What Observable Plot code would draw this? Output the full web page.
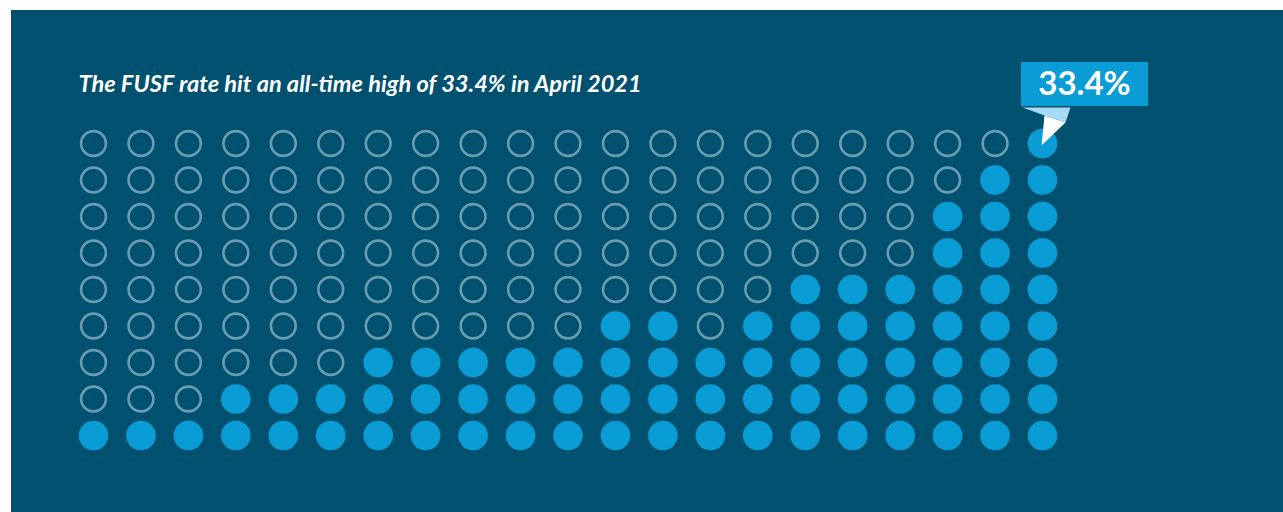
<!DOCTYPE html>
<html>
<head>
<meta charset="utf-8">
<script src="https://cdn.jsdelivr.net/npm/d3@7"></script>
<script src="https://cdn.jsdelivr.net/npm/@observablehq/plot@0.6"></script>
<style>
  html, body { margin: 0; padding: 0; background: #ffffff; }
  #wrap { position: absolute; left: 11px; top: 10px; width: 1272px; height: 502px; background: #00506f; }
  #wrap svg { display: block; }
</style>
</head>
<body>
<div id="wrap"></div>
<script>
// Data
const title = "The FUSF rate hit an all-time high of 33.4% in April 2021";
const columns = d3.range(1, 22);            // 21 columns of dots
const rows = d3.range(1, 10);               // 9 rows, counted from the bottom
const filledCounts = [1, 1, 1, 2, 2, 2, 3, 3, 3, 3, 3, 4, 4, 3, 4, 5, 5, 5, 7, 8, 9];
const highlightLabel = "33.4%";
const highlightColumn = 21;
const highlightRow = 9;

const BG = "#00506f";
const FILL = "#0a9cd4";
const RING = "#6b9db2";

const cells = [];
columns.forEach((c, i) => {
  rows.forEach(r => cells.push({col: c, row: r, filled: r <= filledCounts[i]}));
});

const W = 1272, H = 502;
const xRange = [82, 1031], yRange = [425, 133];
const colStep = (xRange[1] - xRange[0]) / (columns.length - 1);
const rowStep = (yRange[0] - yRange[1]) / (rows.length - 1);
// convert a pixel offset from the highlighted dot into data units
const px = (dx, dy) => ({col: highlightColumn + dx / colStep, row: highlightRow - dy / rowStep});

const callout = [{
  x1: px(-21, 0).col, x2: px(106, 0).col,
  y1: px(0, -37).row, y2: px(0, -81).row,
  label: highlightLabel, cx: px(42, 0).col, cy: px(0, -59).row
}];
const foldShape = [px(-20, -36), px(28, -36), px(23, -21), px(2, -28)];
const tipShape = [px(2, -28), px(23, -21), px(-1, 2)];

const chart = Plot.plot({
  width: W, height: H,
  margin: 0,
  style: {background: BG, overflow: "visible"},
  x: {type: "linear", domain: [1, 21], range: xRange, axis: null},
  y: {type: "linear", domain: [1, 9], range: yRange, axis: null},
  marks: [
    Plot.text([title], {
      frameAnchor: "top-left", dx: 67, dy: 65,
      text: d => d, fill: "#ffffff",
      fontSize: 23.6, fontWeight: 700, fontStyle: "italic",
      fontFamily: "Lato, 'Open Sans', sans-serif", textAnchor: "start", lineAnchor: "top"
    }),
    Plot.dot(cells.filter(d => !d.filled), {x: "col", y: "row", r: 12.4, stroke: RING, strokeWidth: 2.6, fill: "none"}),
    Plot.dot(cells.filter(d => d.filled), {x: "col", y: "row", r: 14.8, fill: FILL, stroke: "none"}),
    Plot.rect(callout, {x1: "x1", x2: "x2", y1: "y1", y2: "y2", fill: FILL}),
    Plot.line(foldShape, {x: "col", y: "row", fill: "#a6dbf5", stroke: "none"}),
    Plot.line(tipShape, {x: "col", y: "row", fill: "#ffffff", stroke: "none"}),
    Plot.text(callout, {x: "cx", y: "cy", text: "label", fill: "#ffffff", fontSize: 33, fontWeight: 700,
      fontFamily: "Lato, 'Open Sans', sans-serif", textAnchor: "middle"})
  ]
});
document.getElementById("wrap").appendChild(chart);
</script>
</body>
</html>
